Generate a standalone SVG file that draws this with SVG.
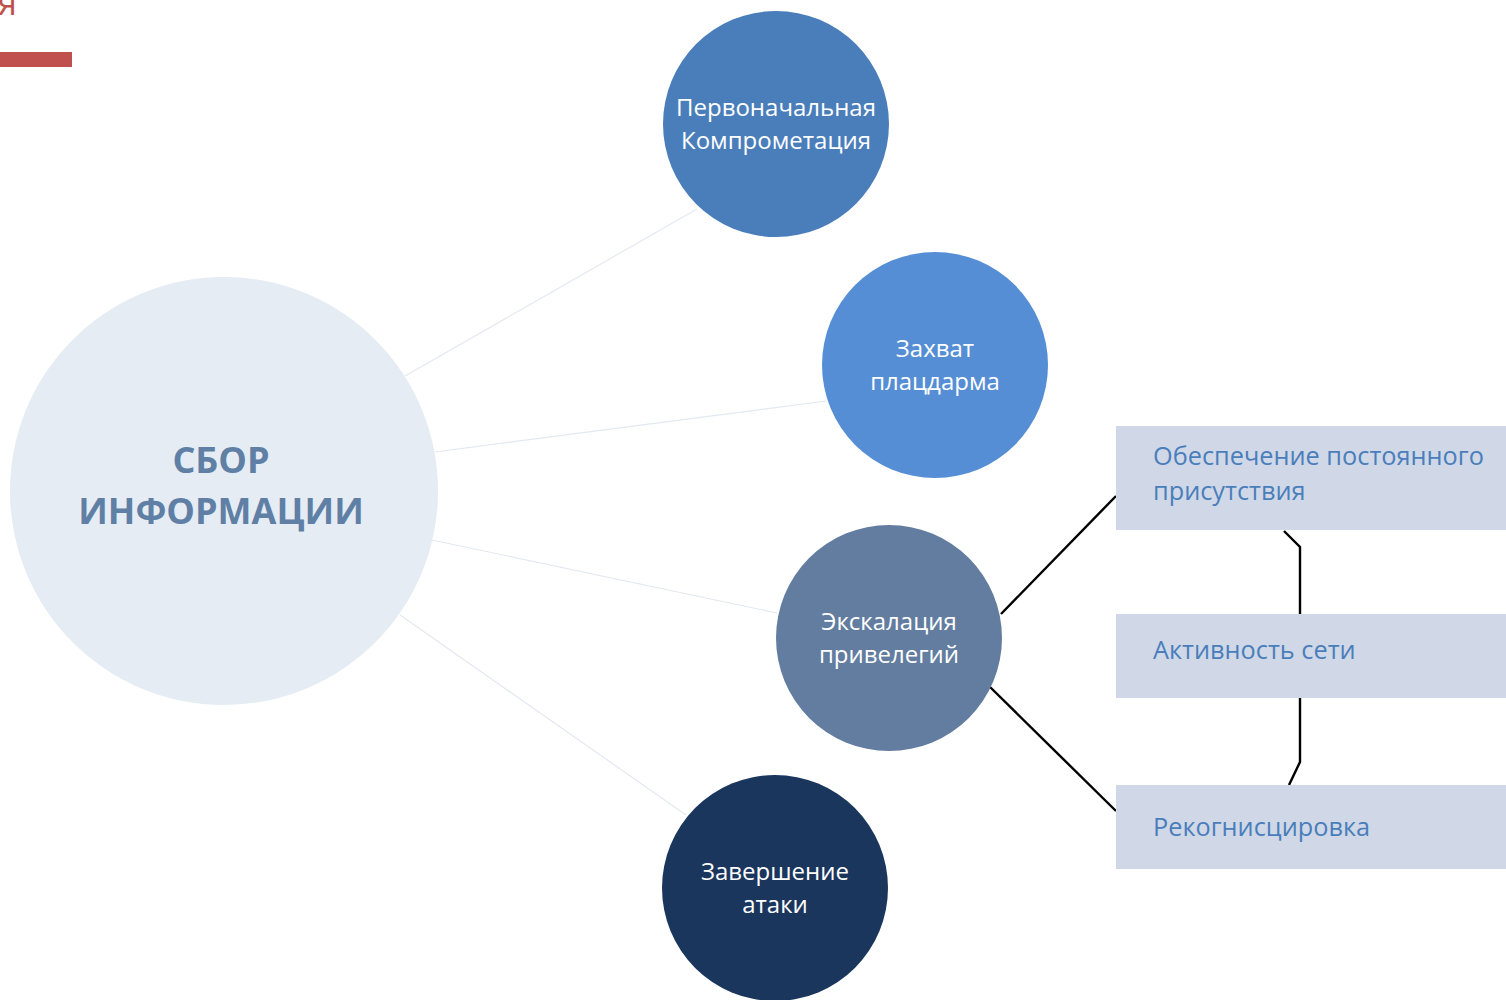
<svg xmlns="http://www.w3.org/2000/svg" width="1506" height="1000" viewBox="0 0 1506 1000">
<style>
.ct{font-family:"Open Sans","Noto Sans","Liberation Sans",sans-serif;font-size:24px;fill:#ffffff;text-anchor:middle}
.bt{font-family:"Open Sans","Noto Sans","Liberation Sans",sans-serif;font-size:25.3px;fill:#4A7EBB}
.big{font-family:"Open Sans","Noto Sans","Liberation Sans",sans-serif;font-size:36px;font-weight:bold;fill:#5F7FA5;text-anchor:middle}
.lc{stroke:#E3E8F1;stroke-width:1.2;fill:none}
.bk{stroke:#000;stroke-width:2.4;fill:none}
.box{fill:#D0D8E7}
</style>
<rect width="1506" height="1000" fill="#ffffff"/>
<text x="-2" y="15" font-family="Open Sans, sans-serif" font-size="34" fill="#C0504D">я</text>
<rect x="0" y="52" width="72" height="15" fill="#C0504D"/>
<g id="connectors">
<line class="lc" x1="405" y1="376" x2="697" y2="209"/>
<line class="lc" x1="435" y1="452" x2="826" y2="401"/>
<line class="lc" x1="432" y1="540" x2="777" y2="613"/>
<line class="lc" x1="400" y1="615" x2="686" y2="815"/>
<line class="bk" x1="1001" y1="614" x2="1116" y2="496"/>
<line class="bk" x1="990" y1="687" x2="1116" y2="811"/>
<polyline class="bk" points="1284,531 1300,547 1300,614"/>
<polyline class="bk" points="1300,698 1300,762 1289,785"/>
</g>
<g id="node-sbor">
<circle cx="224" cy="491" r="214" fill="#E6ECF4"/>
<text class="big" x="221" y="473">СБОР</text>
<text class="big" x="221" y="524">ИНФОРМАЦИИ</text>
</g>
<g id="node-initial">
<circle cx="776" cy="124" r="113" fill="#4A7EBB"/>
<text class="ct" x="776" y="116">Первоначальная</text>
<text class="ct" x="776" y="149">Компрометация</text>
</g>
<g id="node-foothold">
<circle cx="935" cy="365" r="113" fill="#558ED5"/>
<text class="ct" x="935" y="357">Захват</text>
<text class="ct" x="935" y="390">плацдарма</text>
</g>
<g id="node-escalation">
<circle cx="889" cy="638" r="113" fill="#627D9F"/>
<text class="ct" x="889" y="630">Экскалация</text>
<text class="ct" x="889" y="663">привелегий</text>
</g>
<g id="node-complete">
<circle cx="775" cy="888" r="113" fill="#1A365D"/>
<text class="ct" x="775" y="880">Завершение</text>
<text class="ct" x="775" y="913">атаки</text>
</g>
<g id="node-persist">
<rect class="box" x="1116" y="426" width="395" height="104"/>
<text class="bt" x="1153" y="465">Обеспечение постоянного</text>
<text class="bt" x="1153" y="500">присутствия</text>
</g>
<g id="node-network">
<rect class="box" x="1116" y="614" width="395" height="84"/>
<text class="bt" x="1153" y="659">Активность сети</text>
</g>
<g id="node-recon">
<rect class="box" x="1116" y="785" width="395" height="84"/>
<text class="bt" x="1153" y="836">Рекогнисцировка</text>
</g>
</svg>
